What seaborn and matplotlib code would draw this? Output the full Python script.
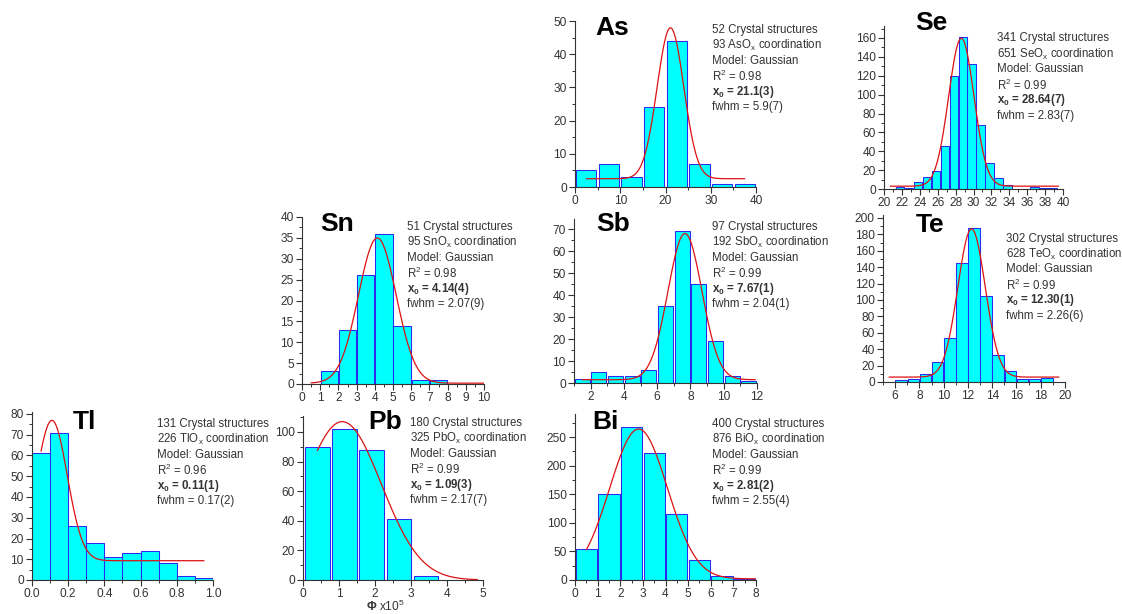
import numpy as np
import pandas as pd
import matplotlib
matplotlib.use("Agg")
import matplotlib.pyplot as plt
from matplotlib.ticker import MultipleLocator, AutoMinorLocator
import seaborn as sns

# histogram data (bin edges + counts)
as_bins = [0, 5, 10, 15, 20, 25, 30, 35, 40]
as_counts = [5, 7, 3, 24, 44, 7, 1, 1]
se_bins = [21.3, 22.3, 23.3, 24.3, 25.3, 26.3, 27.3, 28.3, 29.3, 30.3,
           31.3, 32.3, 33.3, 34.3, 35.3, 36.3, 37.3, 38.3, 39.3]
se_counts = [2, 1, 7, 13, 19, 46, 120, 161, 132, 68, 28, 12, 4, 0, 0, 2, 1, 1]
sn_bins = [0, 1, 2, 3, 4, 5, 6, 7, 8]
sn_counts = [0, 3, 13, 26, 36, 14, 1, 1]
sb_bins = [1, 2, 3, 4, 5, 6, 7, 8, 9, 10, 11, 12]
sb_counts = [2, 5, 3, 3, 6, 35, 69, 45, 19, 3, 1]
te_bins = [6, 7, 8, 9, 10, 11, 12, 13, 14, 15, 16, 17, 18, 19]
te_counts = [2, 4, 10, 24, 54, 145, 188, 105, 33, 14, 4, 4, 5]
tl_bins = [0.0, 0.1, 0.2, 0.3, 0.4, 0.5, 0.6, 0.7, 0.8, 0.9, 1.0]
tl_counts = [61, 71, 26, 18, 11, 13, 14, 8, 2, 1]
pb_bins = [0.02, 0.775, 1.53, 2.285, 3.04, 3.795]
pb_counts = [90, 102, 88, 41, 3]
bi_bins = [0, 1, 2, 3, 4, 5, 6, 7, 8]
bi_counts = [54, 151, 267, 222, 115, 35, 7, 2]

# Gaussian fits: (xc, w, peak height, baseline, x start, x end)
as_fit = (21.1, 5.9, 48, 2.5, 2.5, 37.5)
se_fit = (28.64, 2.83, 160, 3, 20.7, 39.5)
sn_fit = (4.14, 2.07, 35, 0.2, 0.5, 10)
sb_fit = (7.67, 2.04, 68, 1.5, 1.5, 11.9)
te_fit = (12.30, 2.26, 187, 6, 5.5, 19.5)
tl_fit = (0.11, 0.17, 77, 9.3, 0.05, 0.95)
pb_fit = (1.09, 2.17, 107, 0, 0.4, 4.85)
bi_fit = (2.81, 2.55, 264, 2, 0.5, 8)

# annotation values
elements = ["As", "Se", "Sn", "Sb", "Te", "Tl", "Pb", "Bi"]
n_structures = [52, 341, 51, 97, 302, 131, 180, 400]
n_coord = [93, 651, 95, 192, 628, 226, 325, 876]
r2 = ["0.98", "0.99", "0.98", "0.99", "0.99", "0.96", "0.99", "0.99"]
x0_txt = ["21.1(3)", "28.64(7)", "4.14(4)", "7.67(1)", "12.30(1)", "0.11(1)", "1.09(3)", "2.81(2)"]
fwhm_txt = ["5.9(7)", "2.83(7)", "2.07(9)", "2.04(1)", "2.26(6)", "0.17(2)", "2.17(7)", "2.55(4)"]

sns.set_style("ticks")
plt.rcParams['font.family'] = ['Liberation Sans', 'DejaVu Sans']
plt.rcParams['mathtext.fontset'] = 'custom'
plt.rcParams['mathtext.rm'] = 'Liberation Sans'
plt.rcParams['mathtext.it'] = 'Liberation Sans'
plt.rcParams['mathtext.bf'] = 'Liberation Sans:bold'

W, H = 1122, 614
fig = plt.figure(figsize=(W / 100, H / 100), dpi=100)

# layout in pixels: axes (left, right, y0 pixel, ytop pixel), xlim, ylim, ticks, title pos, text pos, shrink
layout = {
    "As": dict(box=(575, 756, 187, 21), xlim=(0, 40), ylim=(0, 50), xt=10, yt=10, title=(612, 28), txt=(712, 29.5), shrink=0.9),
    "Se": dict(box=(884, 1063, 189, 38), xlim=(20, 40), ylim=(0, 160), ytop=173, xt=2, yt=20, title=(931, 23), txt=(997, 38.5), shrink=0.95),
    "Sn": dict(box=(302, 484, 384, 217), xlim=(0, 10), ylim=(0, 40), xt=1, yt=5, title=(337, 224), txt=(407, 227), shrink=0.96),
    "Sb": dict(box=(574, 757, 383, 229), xlim=(1, 12), ylim=(0, 70), ytop=74.5, xt=2, yt=10, title=(613, 224), txt=(712, 227), shrink=0.9),
    "Te": dict(box=(883, 1065, 382, 218), xlim=(5, 20), ylim=(0, 200), ytop=204, xt=2, yt=20, title=(930, 225), txt=(1006, 238.5), shrink=0.96),
    "Tl": dict(box=(32, 213, 580, 414), xlim=(0, 1), ylim=(0, 80), ytop=81, xt=0.2, yt=10, title=(84, 422), txt=(157, 423.5), shrink=1.0),
    "Pb": dict(box=(303, 483, 580, 432), xlim=(0, 5), ylim=(0, 100), ytop=111, xt=1, yt=20, title=(385, 422), txt=(410, 423), shrink=0.9),
    "Bi": dict(box=(575, 756, 580, 437), xlim=(0, 8), ylim=(0, 250), ytop=290, xt=1, yt=50, title=(605, 422), txt=(712, 423.5), shrink=0.94),
}

data = {
    "As": (as_bins, as_counts, as_fit), "Se": (se_bins, se_counts, se_fit),
    "Sn": (sn_bins, sn_counts, sn_fit), "Sb": (sb_bins, sb_counts, sb_fit),
    "Te": (te_bins, te_counts, te_fit), "Tl": (tl_bins, tl_counts, tl_fit),
    "Pb": (pb_bins, pb_counts, pb_fit), "Bi": (bi_bins, bi_counts, bi_fit),
}

ink = '#333333'
for i, el in enumerate(elements):
    L = layout[el]
    xl, xr, yb, yt = L["box"]
    y0, y1 = L["ylim"]
    ytop = L.get("ytop", y1)
    ppu = (yb - yt) / (y1 - y0)
    top_px = yb - (ytop - y0) * ppu
    ax = fig.add_axes([xl / W, 1 - yb / H, (xr - xl) / W, (yb - top_px) / H])
    ax.patch.set_alpha(0)

    bins, counts, fit = data[el]
    edges = np.array(bins, dtype=float)
    df = pd.DataFrame({'x': (edges[:-1] + edges[1:]) / 2, 'n': counts})
    sns.histplot(data=df, x='x', weights='n', bins=list(bins), shrink=L["shrink"],
                 color='#00ffff', edgecolor='#2a2af0', linewidth=0.75, alpha=1, ax=ax)

    xc, w, peak, base, xs0, xs1 = fit
    xs = np.linspace(xs0, xs1, 90)
    ys = base + (peak - base) * np.exp(-2 * ((xs - xc) / w) ** 2)
    sns.lineplot(x=xs, y=ys, color='#dd1111', linewidth=0.9, ax=ax)

    ax.set_xlim(*L["xlim"])
    ax.set_ylim(y0, ytop)
    ax.set_xlabel('')
    ax.set_ylabel('')
    ax.xaxis.set_major_locator(MultipleLocator(L["xt"]))
    ax.yaxis.set_major_locator(MultipleLocator(L["yt"]))
    ax.xaxis.set_minor_locator(AutoMinorLocator(2))
    ax.yaxis.set_minor_locator(AutoMinorLocator(2))
    ax.tick_params(which='major', direction='out', length=4, width=0.8, color=ink,
                   labelsize=8.6, labelcolor=ink, pad=2)
    ax.tick_params(which='minor', direction='out', length=2.5, width=0.7, color=ink)
    for s in ['top', 'right']:
        ax.spines[s].set_visible(False)
    for s in ['left', 'bottom']:
        ax.spines[s].set_color(ink)
        ax.spines[s].set_linewidth(0.8)

    tx, ty = L["title"]
    fig.text(tx / W, 1 - ty / H, el, fontsize=19, fontweight='bold',
             ha='center', va='center', color='black')

    px, py = L["txt"]
    lines = [
        (f"{n_structures[i]} Crystal structures", 'normal'),
        (f"{n_coord[i]} {el}O" + r"$_\mathregular{x}$ coordination", 'normal'),
        ("Model: Gaussian", 'normal'),
        (r"R$^\mathregular{2}$ = " + r2[i], 'normal'),
        (r"$\mathbf{x_0}$ = " + x0_txt[i], 'bold'),
        (f"fwhm = {fwhm_txt[i]}", 'normal'),
    ]
    for k, (s, fw) in enumerate(lines):
        fig.text(px / W, 1 - (py + k * 15.5) / H, s, fontsize=8.3, fontweight=fw,
                 ha='left', va='center', color=ink)

fig.text(385 / W, 1 - 606.5 / H, r"$\mathbf{\Phi}$ x10$^\mathregular{5}$", fontsize=8.6,
         ha='center', va='center', color=ink)

fig.savefig("out.png", dpi=100)
